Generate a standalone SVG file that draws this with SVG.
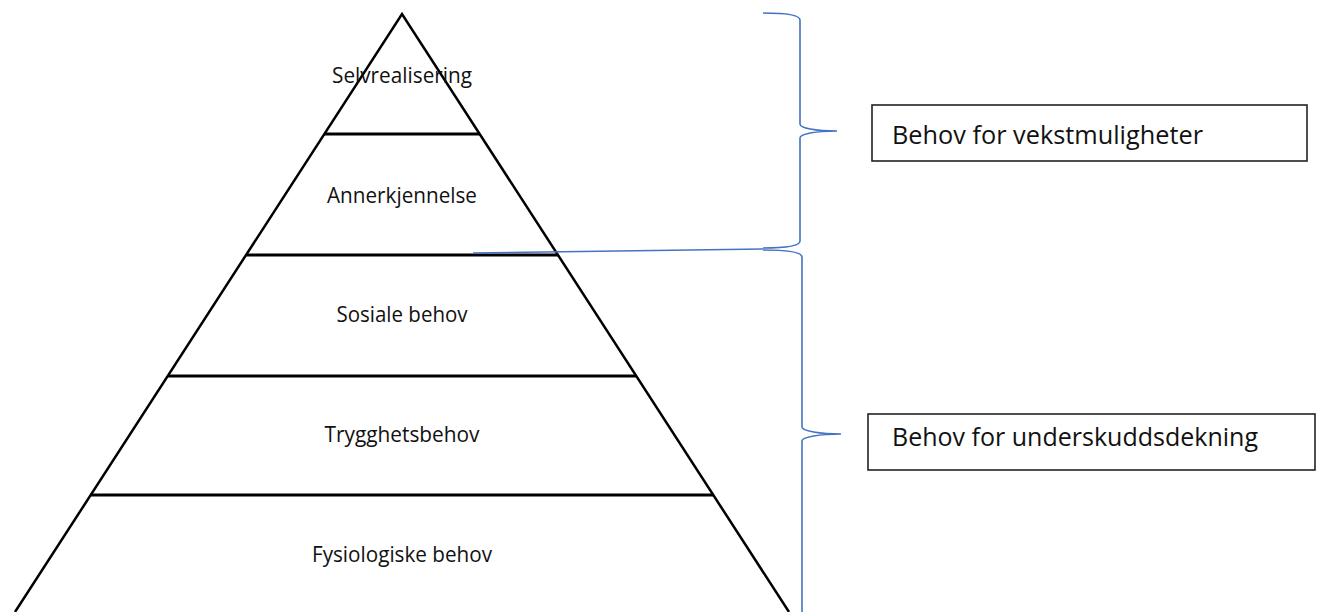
<svg xmlns="http://www.w3.org/2000/svg" width="1317" height="612" viewBox="0 0 1317 612">
  <style>
    .side { fill: none; stroke: #000; stroke-width: 2.5; stroke-linejoin: miter; }
    .tier { stroke: #000; stroke-width: 3; }
    .lbl { font-family: "Open Sans", "Liberation Sans", sans-serif; font-size: 21px; fill: #111; text-anchor: middle; }
    .brace { fill: none; stroke: #4472C4; stroke-width: 1.6; }
    .box { fill: #fff; stroke: #222; stroke-width: 1.6; }
    .boxtxt { font-family: "Open Sans", "Liberation Sans", sans-serif; font-size: 25px; fill: #111; }
  </style>

  <g id="pyramid">
    <path class="side" d="M15,612 L402,14 L789,612"/>
  </g>

  <g id="tier-selvrealisering">
    <text class="lbl" x="402" y="83" textLength="140" lengthAdjust="spacingAndGlyphs">Selvrealisering</text>
  </g>
  <g id="tier-annerkjennelse">
    <line class="tier" x1="324" y1="134" x2="480" y2="134"/>
    <text class="lbl" x="402" y="203" textLength="150" lengthAdjust="spacingAndGlyphs">Annerkjennelse</text>
  </g>
  <g id="tier-sosiale">
    <line class="tier" x1="246" y1="255" x2="558" y2="255"/>
    <text class="lbl" x="402" y="322" textLength="131" lengthAdjust="spacingAndGlyphs">Sosiale behov</text>
  </g>
  <g id="tier-trygghet">
    <line class="tier" x1="168" y1="376" x2="636" y2="376"/>
    <text class="lbl" x="402" y="442" textLength="155" lengthAdjust="spacingAndGlyphs">Trygghetsbehov</text>
  </g>
  <g id="tier-fysiologiske">
    <line class="tier" x1="90" y1="495" x2="714" y2="495"/>
    <text class="lbl" x="402" y="562" textLength="180" lengthAdjust="spacingAndGlyphs">Fysiologiske behov</text>
  </g>

  <g id="connectors">
    <path class="brace" d="M763,13 C785,13 800,15 800,20 L800,124 C800,128 815,131 837,131 C815,131 800,134 800,138 L800,241 C800,246 785,248 763,248"/>
    <path class="brace" d="M763,250 C787,250 802,252 802,257 L802,427 C802,431 820,434 841,434 C820,434 802,437 802,441 L802,612"/>
    <path class="brace" d="M473,253 L763,249"/>
  </g>

  <g id="box-vekst">
    <rect class="box" x="872" y="105" width="435" height="56"/>
    <text class="boxtxt" x="892" y="144" textLength="311" lengthAdjust="spacingAndGlyphs">Behov for vekstmuligheter</text>
  </g>
  <g id="box-underskudd">
    <rect class="box" x="868" y="414" width="447" height="56"/>
    <text class="boxtxt" x="892" y="446" textLength="366" lengthAdjust="spacingAndGlyphs">Behov for underskuddsdekning</text>
  </g>
</svg>
